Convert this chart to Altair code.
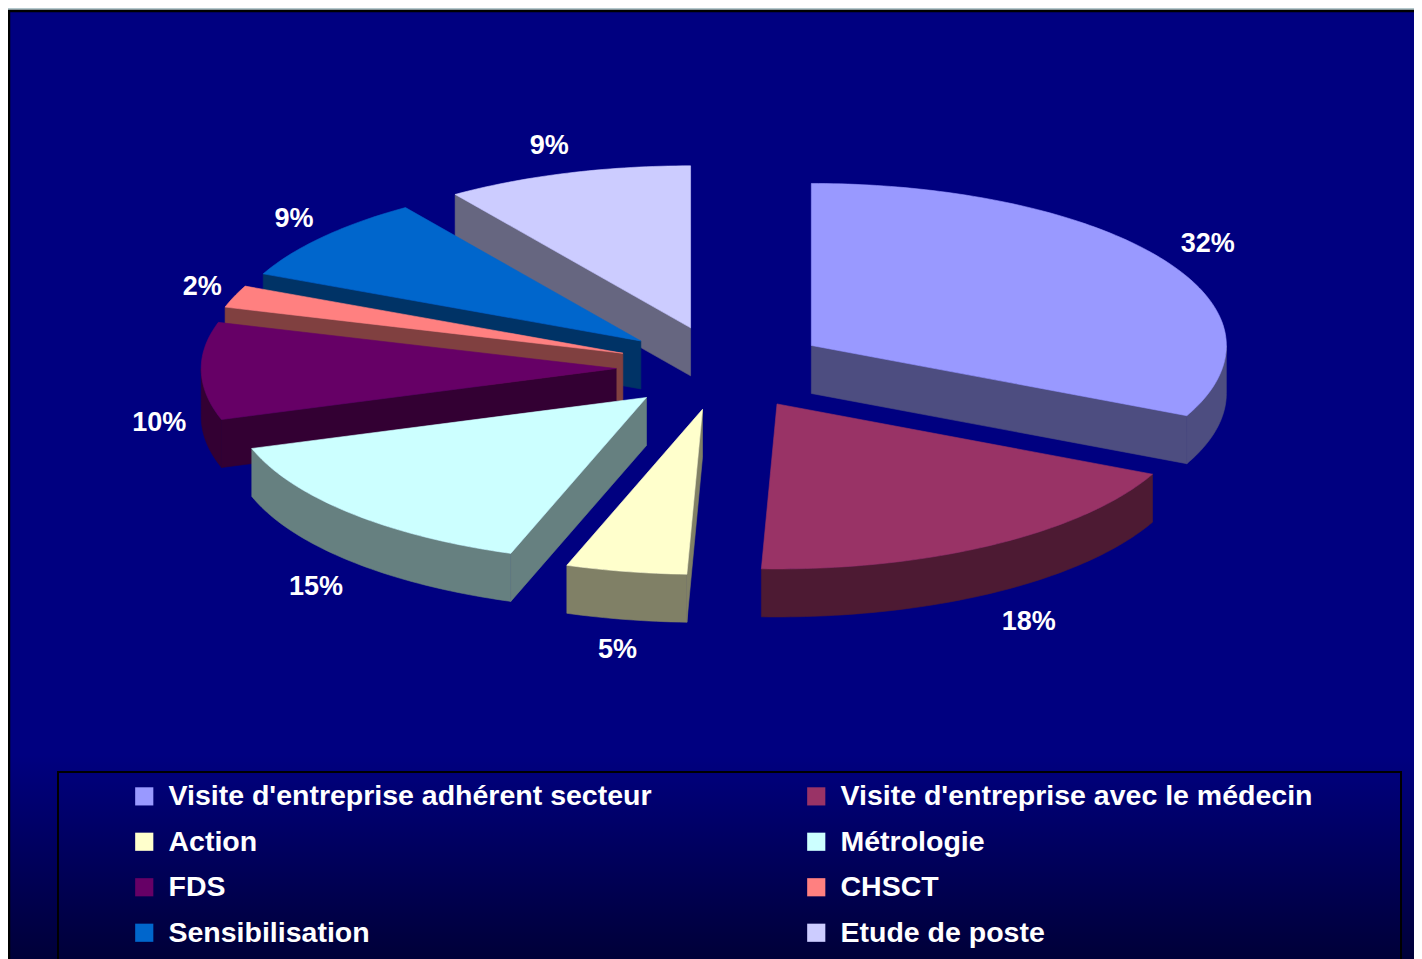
import math
import altair as alt
import pandas as pd

categories = ["Visite d'entreprise adhérent secteur", "Visite d'entreprise avec le médecin",
              "Action", "Métrologie", "FDS", "CHSCT", "Sensibilisation", "Etude de poste"]
shares = [32.0, 18.6, 4.7, 14.7, 9.6, 2.2, 8.6, 9.6]
labels = ["32%", "18%", "5%", "15%", "10%", "2%", "9%", "9%"]
top_colors = ["#9999FF", "#993366", "#FFFFCC", "#CCFFFF", "#660066", "#FF8080", "#0066CC", "#CCCCFF"]
wall_colors = ["#4D4D80", "#4D1A33", "#808066", "#668080", "#330033", "#804040", "#003366", "#666680"]

W, H = 1406, 951
OX, OY = 8, 8          # page margin
CX, CY = 722 - OX, 368 - OY
RX, RY_FRONT, RY_BACK = 415, 165, 162
EXPLODE = 0.255
DEPTH = 48

xs = alt.X("x:Q", scale=alt.Scale(domain=[0, W], range=[0, W], nice=False, zero=False), axis=None)
ys = alt.Y("y:Q", scale=alt.Scale(domain=[0, H], range=[0, H], nice=False, zero=False), axis=None)


def rad(d):
    return math.radians(d)


def rim(ax, ay, d, dz=0.0):
    c = math.cos(rad(d))
    return ax + RX * math.sin(rad(d)), ay - (RY_BACK if c > 0 else RY_FRONT) * c + dz


def arc_degrees(a, b):
    n = max(2, int(abs(b - a)) + 1)
    return [a + (b - a) * i / (n - 1) for i in range(n)]


def polygon(points, color):
    pts = list(points) + [points[0]]
    df = pd.DataFrame({"x": [p[0] for p in pts], "y": [p[1] for p in pts], "i": range(len(pts))})
    return alt.Chart(df).mark_line(fill=color, stroke=color, strokeWidth=0.6, interpolate="linear",
                                   clip=False).encode(x=xs, y=ys, order=alt.Order("i:Q"))


total = sum(shares)
slices = []
start = 0.0
for k, s in enumerate(shares):
    end = start + s / total * 360
    mid = (start + end) / 2
    ax = CX + EXPLODE * RX * math.sin(rad(mid))
    ay = CY - EXPLODE * RY_FRONT * math.cos(rad(mid))
    slices.append(dict(k=k, t0=start, t1=end, mid=mid, ax=ax, ay=ay))
    start = end

layers = []

# backdrop and frame
backdrop = alt.Chart(pd.DataFrame({"a": [0]})).mark_rect(
    fill=alt.Gradient(gradient="linear", x1=0, x2=0, y1=0, y2=1,
                      stops=[alt.GradientStop(offset=0, color="#000080"),
                             alt.GradientStop(offset=0.78, color="#000080"),
                             alt.GradientStop(offset=1, color="#000036")]),
    stroke="#000000", strokeWidth=2.5,
).encode(x=alt.value(1), x2=alt.value(W + 6), y=alt.value(3), y2=alt.value(H + 6))
strip = alt.Chart(pd.DataFrame({"a": [0]})).mark_rect(fill="#B4C8CC").encode(
    x=alt.value(0), x2=alt.value(W), y=alt.value(0), y2=alt.value(2))
layers += [strip, backdrop]

# hidden-behind points that carry the legend
legend_df = pd.DataFrame({
    "cat": categories,
    "x": [s["ax"] + 0.6 * RX * math.sin(rad(s["mid"])) for s in slices],
    "y": [s["ay"] - 0.6 * RY_FRONT * math.cos(rad(s["mid"])) for s in slices],
})
legend_layer = alt.Chart(legend_df).mark_square(size=10, opacity=1).encode(
    x=xs, y=ys,
    color=alt.Color("cat:N", sort=categories,
                    scale=alt.Scale(domain=categories, range=top_colors),
                    legend=alt.Legend(
                        title=None, orient="none", legendX=122, legendY=774, columns=2,
                        direction="horizontal", symbolType="square", symbolSize=330, symbolStrokeWidth=0,
                        labelFont="Liberation Sans", labelFontWeight="bold", labelFontSize=28.5,
                        labelColor="#FFFFFF", labelLimit=700, labelOffset=10, rowPadding=16.5,
                        columnPadding=150, gridAlign="each", padding=0, symbolOpacity=1)),
)
legend_box = alt.Chart(pd.DataFrame({"a": [0]})).mark_rect(fill="transparent", stroke="#000000", strokeWidth=2).encode(
    x=alt.value(50), x2=alt.value(1393), y=alt.value(764), y2=alt.value(H + 6))
layers += [legend_box, legend_layer]

# painter's order: far slices first
for s in sorted(slices, key=lambda q: q["ay"]):
    k, ax, ay, t0, t1 = s["k"], s["ax"], s["ay"], s["t0"], s["t1"]
    wall = wall_colors[k]
    # radial walls that face the viewer
    for edge, visible in ((t0, 180 < t0 < 360), (t1, 0 < t1 < 180)):
        if visible:
            p, q = rim(ax, ay, edge), rim(ax, ay, edge, DEPTH)
            layers.append(polygon([(ax, ay), p, q, (ax, ay + DEPTH)], wall))
    # curved rim on the front half
    lo, hi = max(t0, 90), min(t1, 270)
    if lo < hi:
        deg = arc_degrees(lo, hi)
        pts = [rim(ax, ay, d) for d in deg] + [rim(ax, ay, d, DEPTH) for d in reversed(deg)]
        layers.append(polygon(pts, wall))
    # top face
    pts = [(ax, ay)] + [rim(ax, ay, d) for d in arc_degrees(t0, t1)]
    layers.append(polygon(pts, top_colors[k]))

# percentage labels
lab_x, lab_y = [], []
for s in slices:
    sn, cs = math.sin(rad(s["mid"])), math.cos(rad(s["mid"]))
    px, py = rim(s["ax"], s["ay"], s["mid"])
    if sn > 0:
        dx = 50 * sn ** 0.5
    elif cs > 0.02:
        dx = -33 * abs(sn) ** 0.5
    else:
        dx = -42 * abs(sn) ** 0.5 * (1 - 0.6 * abs(cs) ** 8)
    lab_x.append(px + dx)
    if cs < 0.02:
        lab_y.append(py + DEPTH + 30 * max(-cs, 0) ** 0.5 + 1)
    else:
        lab_y.append(py - 28 * cs)
label_df = pd.DataFrame({"x": lab_x, "y": lab_y, "t": labels})
layers.append(alt.Chart(label_df).mark_text(
    font="Liberation Sans", fontWeight="bold", fontSize=27, color="#FFFFFF", align="center", baseline="middle"
).encode(x=xs, y=ys, text="t:N"))

chart = alt.layer(*layers).properties(
    width=W, height=H, padding=0, autosize=alt.AutoSizeParams(type="none"), background="transparent"
).configure_view(stroke=None)

chart.save("out.html", embed_options={"renderer": "svg", "actions": False})
